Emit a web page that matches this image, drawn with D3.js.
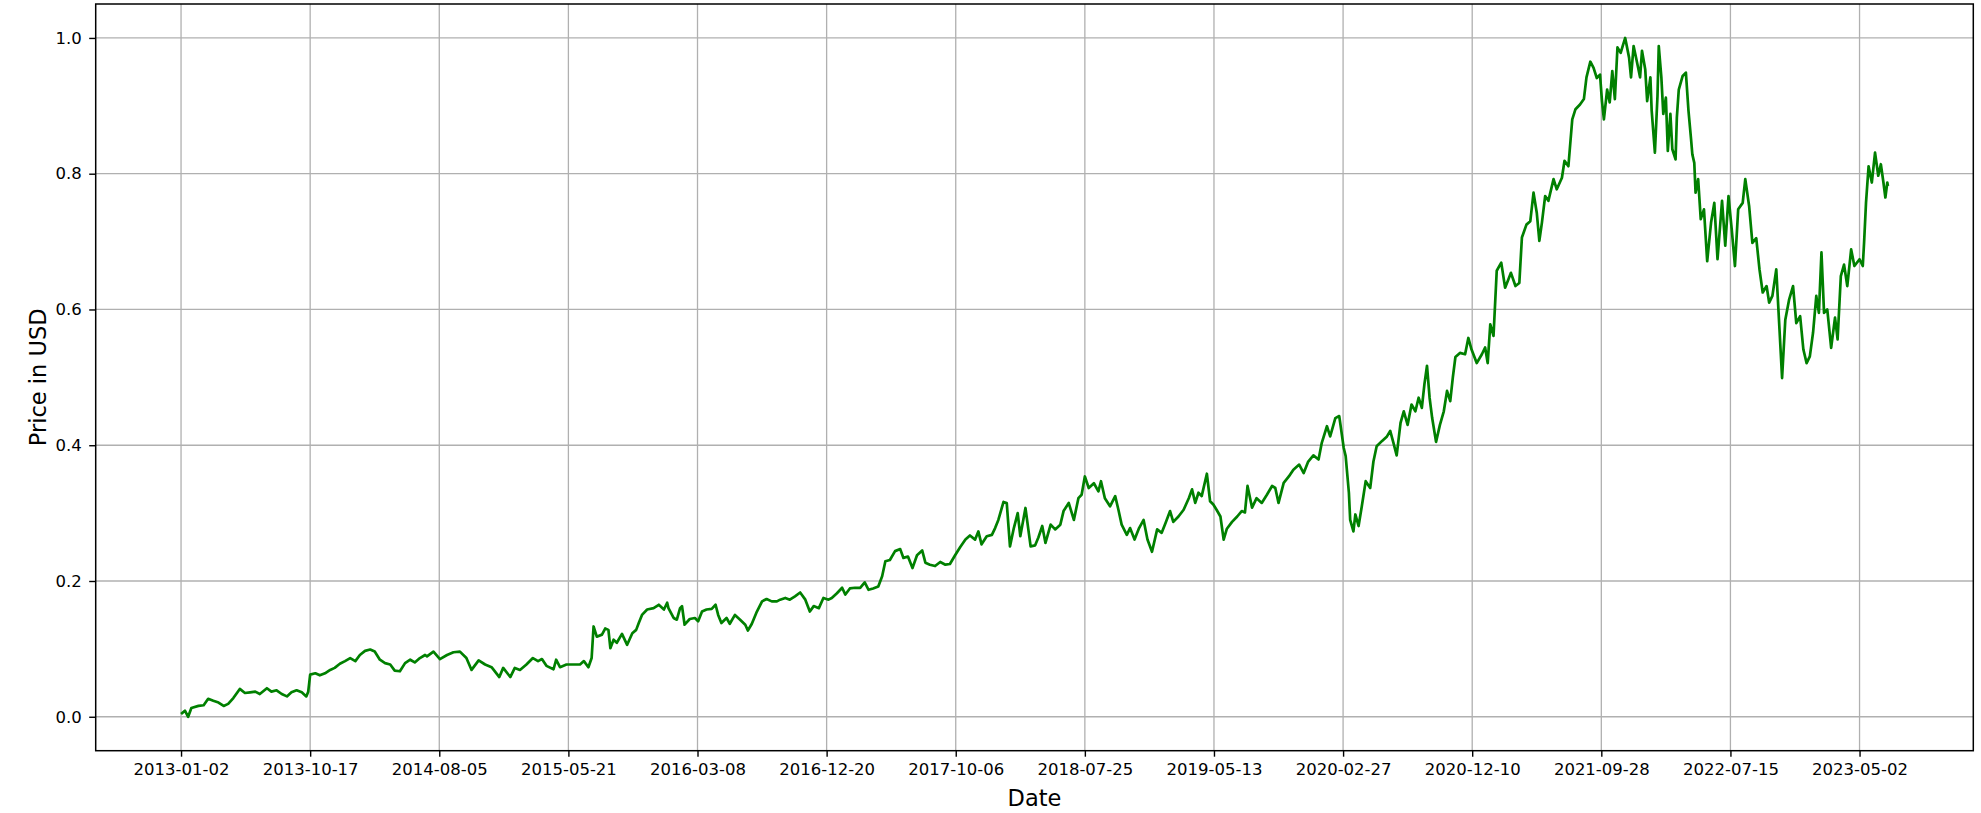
<!DOCTYPE html>
<html>
<head>
<meta charset="utf-8">
<script src="https://cdn.jsdelivr.net/npm/d3@7"></script>
<style>
  html, body { margin: 0; padding: 0; background: #fff; }
  svg { display: block; }
  text { font-family: "DejaVu Sans", sans-serif; fill: #000; }
</style>
</head>
<body>
<svg id="chart" width="1981" height="813"></svg>
<script>
// ---------------- data ----------------
const tickRows = [0, 200, 400, 600, 800, 1000, 1200, 1400, 1600, 1800, 2000, 2200, 2400, 2600];
const tickLabels = ["2013-01-02", "2013-10-17", "2014-08-05", "2015-05-21", "2016-03-08", "2016-12-20",
  "2017-10-06", "2018-07-25", "2019-05-13", "2020-02-27", "2020-12-10", "2021-09-28", "2022-07-15", "2023-05-02"];
const yTicks = [0.0, 0.2, 0.4, 0.6, 0.8, 1.0];

// trading-day index of each reading
const rows = [
  0, 6, 11, 16, 27, 35, 42, 50, 58, 66, 73, 81, 91, 99, 107, 115, 122, 133, 140, 148, 156, 164, 171, 179, 187, 194, 197,
  200, 208, 215, 223, 231, 238, 246, 254, 262, 270, 277, 285, 293, 300, 308, 316, 324, 331, 339, 347, 355, 362, 370, 378,
  381, 391, 401, 412, 422, 432, 442, 450, 461, 471, 481, 493, 499, 510, 517, 525, 535, 545, 553, 559, 566, 577, 581, 587,
  597, 608, 618, 624, 631, 636, 639, 644, 652, 657, 662, 665, 670, 675, 683, 691, 699, 705, 709, 714, 722, 732, 740, 748,
  753, 755, 763, 768, 773, 776, 780, 788, 796, 801, 807, 814, 822, 828, 832, 837, 845, 850, 858, 866, 874, 878, 884, 892,
  900, 907, 915, 923, 928, 936, 943, 951, 959, 967, 974, 980, 988, 995, 1003, 1008, 1016, 1024, 1029, 1036, 1044, 1052,
  1059, 1065, 1072, 1080, 1086, 1091, 1098, 1106, 1114, 1119, 1126, 1133,
  1140, 1148, 1153, 1160, 1168, 1176, 1184, 1191, 1199, 1207, 1215, 1222, 1230, 1235, 1240, 1248, 1256, 1261, 1266, 1274,
  1279, 1284, 1290, 1296, 1300, 1308, 1316, 1323, 1328, 1334, 1339, 1347, 1354, 1362, 1367, 1375, 1383, 1390, 1395, 1400,
  1406, 1414, 1421, 1425, 1431, 1439, 1447, 1452, 1457, 1465, 1470, 1477, 1484, 1491, 1497, 1504, 1512,
  1519, 1525, 1532, 1537, 1545, 1553, 1561, 1566, 1571, 1576, 1581, 1589, 1594, 1599, 1604, 1610, 1615, 1620, 1628, 1636,
  1643, 1648, 1652, 1659, 1666, 1674, 1682, 1690, 1695, 1700, 1708, 1716, 1723, 1732, 1739, 1746, 1754, 1762, 1767, 1775,
  1780, 1788, 1794, 1797, 1801, 1804, 1809, 1811, 1816, 1819, 1824, 1829, 1835, 1842, 1847, 1852, 1860, 1868, 1873, 1878,
  1883, 1889, 1894,
  1900, 1906, 1912, 1917, 1922, 1926, 1930, 1934, 1938, 1944, 1950, 1956, 1961, 1966, 1970, 1974,
  1981, 1989, 1994, 1999, 2007, 2015, 2020, 2024, 2028, 2033, 2038, 2045, 2051, 2056, 2060, 2067, 2073, 2077, 2084, 2090,
  2095, 2100, 2104, 2108, 2113, 2118, 2126, 2131, 2139, 2143, 2149, 2155, 2160, 2167, 2173, 2177, 2183, 2188, 2193, 2198,
  2201, 2204, 2209, 2213, 2217, 2221, 2225, 2230, 2234, 2237, 2243, 2246, 2250, 2256, 2260, 2263, 2268,
  2271, 2276, 2278, 2283, 2287, 2289, 2293, 2296, 2300, 2303, 2307, 2310, 2315, 2317, 2320, 2326, 2331, 2335, 2339, 2341,
  2344, 2346, 2350, 2354, 2359, 2364, 2370, 2375, 2380, 2387, 2392, 2397, 2402, 2407, 2412, 2419, 2423, 2429, 2434, 2440,
  2445, 2450, 2456, 2460, 2465, 2471, 2476, 2480, 2485, 2491, 2497, 2502, 2508, 2513, 2518, 2523, 2528, 2533, 2537, 2541,
  2545, 2550, 2556, 2562, 2566, 2571, 2576, 2581, 2587, 2592, 2600, 2605, 2607, 2610, 2614, 2619, 2624, 2629, 2633, 2637,
  2640, 2643, 2644
];

// normalised closing price at each reading
const prices = [
  0.004, 0.009, 0.0, 0.013, 0.016, 0.017, 0.0265, 0.0236, 0.021, 0.016, 0.019, 0.0276, 0.041, 0.035, 0.036, 0.037, 0.0335, 0.042, 0.037, 0.039, 0.0335, 0.030, 0.036, 0.039, 0.036, 0.030, 0.037,
  0.062, 0.064, 0.061, 0.064, 0.069, 0.072, 0.078, 0.082, 0.0865, 0.082, 0.091, 0.097, 0.099, 0.096, 0.084, 0.079, 0.077, 0.068, 0.067, 0.079, 0.084, 0.080, 0.0865, 0.091,
  0.089, 0.096, 0.085, 0.091, 0.095, 0.096, 0.0865, 0.069, 0.083, 0.077, 0.073, 0.0585, 0.072, 0.0585, 0.072, 0.069, 0.077, 0.0865, 0.082, 0.085, 0.075, 0.070, 0.084, 0.073,
  0.077, 0.077, 0.077, 0.082, 0.073, 0.0865, 0.133, 0.118, 0.121, 0.130, 0.128, 0.101, 0.1135, 0.109, 0.122, 0.106, 0.123, 0.128, 0.138, 0.150, 0.158, 0.160, 0.165, 0.158,
  0.168, 0.160, 0.1455, 0.143, 0.160, 0.163, 0.1356, 0.144, 0.1455, 0.1406, 0.155, 0.158, 0.159, 0.165, 0.150, 0.138, 0.1455, 0.137, 0.150, 0.143, 0.1356, 0.127, 0.1366, 0.155,
  0.170, 0.1735, 0.170, 0.170, 0.1725, 0.175, 0.1725, 0.1774, 0.183, 0.1725, 0.155, 0.163, 0.160, 0.175, 0.1725, 0.175, 0.182, 0.190, 0.180, 0.189, 0.190, 0.190,
  0.198, 0.187, 0.189, 0.192, 0.207, 0.229, 0.231, 0.244, 0.247, 0.234, 0.236, 0.219,
  0.238, 0.245, 0.227, 0.224, 0.222, 0.228, 0.224, 0.225, 0.238, 0.250, 0.261, 0.267, 0.261, 0.273, 0.254, 0.266, 0.268, 0.278, 0.290, 0.3165,
  0.315, 0.251, 0.278, 0.300, 0.266, 0.3076, 0.251, 0.2525, 0.264, 0.281, 0.256, 0.283, 0.276, 0.283, 0.303, 0.315, 0.290, 0.322, 0.327, 0.354,
  0.337, 0.344, 0.332, 0.347, 0.322, 0.310, 0.325, 0.305, 0.283, 0.268, 0.278, 0.261, 0.278, 0.290, 0.261, 0.243, 0.276,
  0.271, 0.2855, 0.303, 0.287, 0.295, 0.305, 0.322, 0.335, 0.315, 0.330, 0.325, 0.358, 0.3175, 0.3126, 0.305, 0.295, 0.261, 0.277, 0.287, 0.295,
  0.303, 0.301, 0.340, 0.308, 0.322, 0.315, 0.327, 0.340, 0.337, 0.315, 0.3445, 0.354, 0.364, 0.3715, 0.359, 0.376, 0.385, 0.379, 0.4035, 0.428,
  0.413, 0.440, 0.443, 0.423, 0.396, 0.384, 0.330, 0.290, 0.273, 0.298, 0.281, 0.310, 0.347, 0.337, 0.376, 0.3985, 0.406, 0.413, 0.421, 0.4035,
  0.385, 0.433, 0.450,
  0.43, 0.46, 0.45, 0.47, 0.455, 0.49, 0.517, 0.47, 0.44, 0.405, 0.43, 0.45, 0.48, 0.465, 0.50, 0.53,
  0.536, 0.534, 0.558, 0.541, 0.521, 0.534, 0.544, 0.521, 0.578, 0.561, 0.657, 0.669, 0.632, 0.644, 0.654, 0.6345, 0.639, 0.706, 0.725, 0.730,
  0.772, 0.7425, 0.701, 0.728, 0.767, 0.760, 0.792, 0.777, 0.794, 0.819, 0.811, 0.880, 0.895, 0.902, 0.910, 0.942, 0.965, 0.956, 0.941, 0.946,
  0.907, 0.880, 0.924, 0.905, 0.951, 0.910, 0.986, 0.978, 0.991, 1.0, 0.971, 0.942, 0.988, 0.961, 0.942, 0.981, 0.954,
  0.907, 0.942, 0.893, 0.831, 0.9145, 0.988, 0.942, 0.888, 0.912, 0.8335, 0.888, 0.836, 0.821, 0.883, 0.924, 0.944, 0.949, 0.893, 0.851, 0.8285,
  0.816, 0.772, 0.792, 0.733, 0.7475, 0.671, 0.728, 0.757, 0.674, 0.760, 0.694, 0.767, 0.718, 0.664, 0.7475, 0.757, 0.792, 0.752, 0.698, 0.705,
  0.659, 0.625, 0.6345, 0.610, 0.620, 0.659, 0.5705, 0.499, 0.585, 0.615, 0.6345, 0.580, 0.590, 0.541, 0.521, 0.531, 0.566, 0.620, 0.595, 0.684,
  0.595, 0.600, 0.5435, 0.588, 0.556, 0.649, 0.666, 0.6345, 0.6885, 0.664, 0.674, 0.664, 0.698, 0.757, 0.811, 0.787, 0.831, 0.797, 0.814, 0.787,
  0.765, 0.787, 0.782
];

// ---------------- layout ----------------
const plot = { left: 95.7, right: 1973.3, top: 4, bottom: 750.7 };

const svg = d3.select("#chart");
const data = rows.map((r, i) => ({ r: r, v: prices[i] }));

// matplotlib-like 5% margins around data extent
const [xmin, xmax] = d3.extent(rows);
const [ymin, ymax] = d3.extent(prices);
const xpad = (xmax - xmin) * 0.05, ypad = (ymax - ymin) * 0.05;

const x = d3.scaleLinear().domain([xmin - xpad, xmax + xpad]).range([plot.left, plot.right]);
const y = d3.scaleLinear().domain([ymin - ypad, ymax + ypad]).range([plot.bottom, plot.top]);

// grid
const gridColor = "#b0b0b0", gridW = 1.3;
const grid = svg.append("g").attr("class", "grid");
grid.selectAll("line.vx").data(tickRows).enter().append("line")
  .attr("x1", d => x(d)).attr("x2", d => x(d))
  .attr("y1", plot.top).attr("y2", plot.bottom)
  .attr("stroke", gridColor).attr("stroke-width", gridW);
grid.selectAll("line.hy").data(yTicks).enter().append("line")
  .attr("x1", plot.left).attr("x2", plot.right)
  .attr("y1", d => y(d)).attr("y2", d => y(d))
  .attr("stroke", gridColor).attr("stroke-width", gridW);

// clip
svg.append("clipPath").attr("id", "clip").append("rect")
  .attr("x", plot.left).attr("y", plot.top)
  .attr("width", plot.right - plot.left).attr("height", plot.bottom - plot.top);

// line
const line = d3.line().x(d => x(d.r)).y(d => y(d.v));
svg.append("path").datum(data)
  .attr("clip-path", "url(#clip)")
  .attr("d", line)
  .attr("fill", "none")
  .attr("stroke", "#008000")
  .attr("stroke-width", 2.7)
  .attr("stroke-linejoin", "round");

// axes
const tickFont = 16.5;
const xAxis = d3.axisBottom(x).tickValues(tickRows)
  .tickFormat((d, i) => tickLabels[i])
  .tickSize(6).tickPadding(6.5);
const yAxis = d3.axisLeft(y).tickValues(yTicks)
  .tickFormat(d3.format(".1f"))
  .tickSize(6.5).tickPadding(7.5);

const gx = svg.append("g").attr("transform", `translate(0,${plot.bottom})`).call(xAxis);
const gy = svg.append("g").attr("transform", `translate(${plot.left},0)`).call(yAxis);
[gx, gy].forEach(g => {
  g.select(".domain").remove();
  g.selectAll(".tick line").attr("stroke", "#000").attr("stroke-width", 1.4);
  g.selectAll(".tick text").attr("font-family", "DejaVu Sans").attr("font-size", tickFont).attr("fill", "#1a1a1a");
});

// frame (spines)
svg.append("rect")
  .attr("x", plot.left).attr("y", plot.top)
  .attr("width", plot.right - plot.left).attr("height", plot.bottom - plot.top)
  .attr("fill", "none").attr("stroke", "#000").attr("stroke-width", 1.5);

// axis labels
const labelFont = 22.5;
svg.append("text")
  .attr("x", (plot.left + plot.right) / 2).attr("y", 806)
  .attr("text-anchor", "middle")
  .attr("font-size", labelFont)
  .attr("fill", "#1a1a1a")
  .text("Date");

svg.append("text")
  .attr("transform", `translate(46,${(plot.top + plot.bottom) / 2}) rotate(-90)`)
  .attr("text-anchor", "middle")
  .attr("font-size", labelFont)
  .attr("fill", "#1a1a1a")
  .text("Price in USD");
</script>
</body>
</html>
